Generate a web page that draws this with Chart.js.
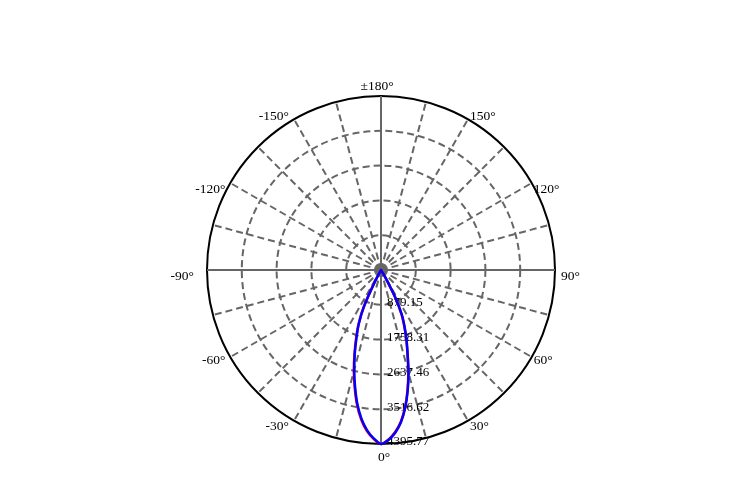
<!DOCTYPE html>
<html>
<head>
<meta charset="utf-8">
<script src="https://cdn.jsdelivr.net/npm/chart.js@4.4.1/dist/chart.umd.min.js"></script>
<style>
  html, body { margin: 0; padding: 0; background: #ffffff; }
  #wrap { width: 745px; height: 480px; }
</style>
</head>
<body>
<div id="wrap"><canvas id="c" width="745" height="480"></canvas></div>
<script>
// ---- Data ----
// Radial tick values (cd)
const tickValues = [0, 879.15, 1758.31, 2637.46, 3516.62, 4395.77];
// Angles (deg from nadir) at which the beam was read
const beamAngles = [0, 2.5, 5, 7.5, 10, 12.5, 15, 17.5, 20, 22.5, 25, 27.5, 30, 32.5, 35];
// Blue curve: negative-angle side and positive-angle side
const blueNeg = [4395.77, 4256, 4060, 3786, 3440, 3026, 2615, 2198, 1806, 1458, 1014, 330, 0, 0, 0];
const bluePos = [4395.77, 4300, 4128, 3875, 3530, 3118, 2684, 2240, 1886, 1556, 1238, 783, 250, 0, 0];
// Red curve (mostly hidden under the blue one)
const redNeg = [4395.77, 4270, 4085, 3815, 3470, 3060, 2650, 2230, 1835, 1480, 1040, 360, 0, 0, 0];
const redPos = [4395.77, 4290, 4110, 3860, 3510, 3100, 2665, 2225, 1870, 1540, 1220, 760, 230, 0, 0];
// Angular categories: 2.5 deg steps, going 0 -> -90 -> ±180 -> 90 -> 0
const angleStep = 2.5;
const labelAngles = [];
for (let i = 0; i < 360 / angleStep; i++) {
  let a = -angleStep * i;
  if (a <= -180) a += 360;
  labelAngles.push(a);
}
const categories = labelAngles.map(a => (a === 180 ? '±180°' : a + '°'));

function seriesFor(neg, pos) {
  return labelAngles.map(a => {
    const side = a <= 0 ? neg : pos;
    const k = beamAngles.indexOf(Math.abs(a));
    return k >= 0 ? side[k] : 0;
  });
}

const FONT = '13.5px "Liberation Serif", "Times New Roman", serif';
const TICK_FONT = '13px "Liberation Serif", "Times New Roman", serif';
const GRAY = '#666666';

const textPlugin = {
  id: 'polarText',
  beforeDatasetsDraw(chart) {
    const s = chart.scales.r, ctx = chart.ctx;
    ctx.save();
    ctx.font = TICK_FONT;
    ctx.fillStyle = '#000';
    ctx.textAlign = 'left';
    ctx.textBaseline = 'middle';
    s.ticks.forEach((t, i) => {
      if (i === 0) return;
      const p = s.getPointPosition(0, s.getDistanceFromCenterForValue(t.value));
      ctx.fillText(t.value.toFixed(2), p.x + 6, p.y - 2);
    });
    ctx.restore();
  },
  afterDraw(chart) {
    const s = chart.scales.r, ctx = chart.ctx, R = s.drawingArea;
    ctx.save();
    ctx.font = FONT;
    ctx.fillStyle = '#000';
    ctx.textBaseline = 'middle';
    labelAngles.forEach((a, i) => {
      if (a % 30 !== 0) return;
      const p = s.getPointPosition(i, R);
      let x = p.x, y = p.y, align;
      if (Math.abs(a) === 180) { align = 'center'; x -= 4; y -= 10; }
      else if (a === 0) { align = 'center'; x += 3; y += 13; }
      else if (a > 0) { align = 'left'; x += (a === 90 ? 6 : 2); y += (a === 150 ? -3 : (a === 60 ? 3 : 6)); }
      else { align = 'right'; x -= (a === -90 ? 13 : 5); y += (a === -150 ? -3 : (a === -60 ? 3 : 6)); }
      ctx.textAlign = align;
      ctx.fillText(categories[i], x, y);
    });
    ctx.restore();
  }
};

const isAxis = a => a === 0 || Math.abs(a) === 90 || a === 180;

new Chart(document.getElementById('c'), {
  type: 'radar',
  data: {
    labels: categories,
    datasets: [
      {
        label: 'C90-C270',
        data: seriesFor(blueNeg, bluePos),
        borderColor: '#0000ff',
        borderWidth: 2.5,
        fill: false,
        pointRadius: 0,
        tension: 0.3,
        borderJoinStyle: 'round'
      },
      {
        label: 'C0-C180',
        data: seriesFor(redNeg, redPos),
        borderColor: '#ff0000',
        borderWidth: 2.5,
        fill: false,
        pointRadius: 0,
        tension: 0.3,
        borderJoinStyle: 'round'
      }
    ]
  },
  options: {
    responsive: false,
    maintainAspectRatio: false,
    animation: false,
    layout: { padding: { top: 96, bottom: 36, left: 200, right: 183 } },
    plugins: { legend: { display: false }, tooltip: { enabled: false } },
    scales: {
      r: {
        min: 0,
        max: tickValues[tickValues.length - 1],
        startAngle: 180,
        afterBuildTicks: (scale) => { scale.ticks = tickValues.map(v => ({ value: v })); },
        ticks: { display: false },
        pointLabels: { display: false },
        grid: {
          circular: true,
          color: ctx => (ctx.index === tickValues.length - 1 ? '#000000' : GRAY),
          lineWidth: 2,
          borderDash: ctx => (ctx.index === tickValues.length - 1 ? [] : [7, 4])
        },
        border: {
          dash: ctx => (ctx.index === tickValues.length - 1 ? [] : [7, 4])
        },
        angleLines: {
          display: true,
          color: GRAY,
          lineWidth: ctx => (labelAngles[ctx.index] % 15 === 0 ? 2 : 0),
          borderDash: ctx => (isAxis(labelAngles[ctx.index]) ? [] : [7, 4])
        }
      }
    }
  },
  plugins: [textPlugin]
});
</script>
</body>
</html>
